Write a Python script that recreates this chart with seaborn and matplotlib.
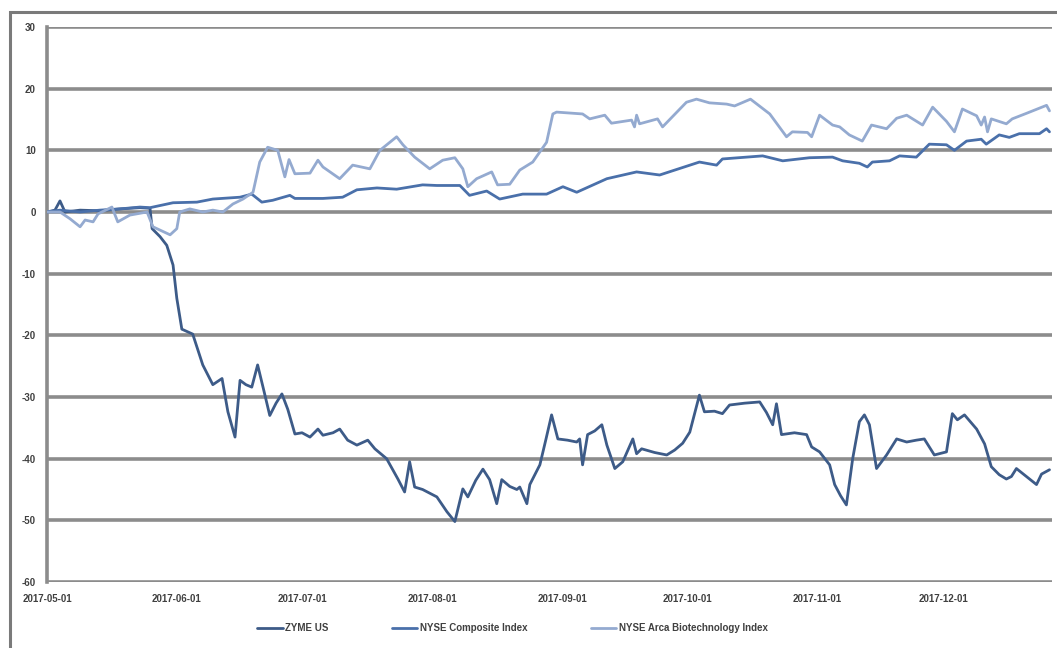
import pandas as pd
import numpy as np
import matplotlib
matplotlib.use('Agg')
import matplotlib.pyplot as plt
import matplotlib.dates as mdates
from matplotlib.patches import Rectangle
import seaborn as sns

# Cumulative return (%) since 2017-05-01
START = pd.Timestamp('2017-05-01')

zyme_days = [0, 1.9, 3.1, 4.3, 7.9, 12.6, 17.4, 22.2, 24.6, 25.1, 27.0, 28.6, 30.1, 31.0, 32.2,
             34.8, 37.2, 39.6, 41.8, 43.2, 44.9, 46.1, 47.5, 48.9, 50.3, 51.8, 53.2, 54.7, 56.1,
             57.5, 59.2, 60.9, 62.8, 64.7, 65.9, 68.3, 69.9, 71.8, 74.0, 76.6, 78.3, 81.1, 83.8,
             85.4, 86.6, 87.8, 89.7, 93.1, 95.5, 97.4, 99.3, 100.5, 102.4, 104.1, 105.7, 107.4,
             108.6, 110.5, 112.2, 112.9, 114.6, 115.3, 117.7, 119.1, 120.5, 122.0, 124.3, 126.5,
             127.2, 127.9, 129.1, 130.8, 132.5, 133.7, 135.6, 137.5, 139.9, 140.8, 142.0, 145.1,
             148.0, 149.9, 151.8, 153.5, 155.8, 157.0, 159.4, 161.3, 163.0, 166.6, 170.2, 171.8,
             173.3, 174.2, 175.4, 178.5, 180.4, 181.4, 182.6, 184.5, 186.9, 188.1, 189.5, 190.9,
             192.4, 194.0, 195.2, 196.4, 198.1, 200.5, 202.9, 205.3, 207.6, 209.5, 211.9, 214.8,
             216.2, 217.4, 219.1, 222.0, 223.9, 225.5, 227.4, 229.1, 230.3, 231.5, 233.9, 236.3,
             237.5, 239.4]
zyme_vals = [0, 0.3, 1.8, 0, 0.3, 0.2, 0.5, 0.7, 0.6, -2.7, -4, -5.4, -8.6, -14, -19,
             -19.8, -24.8, -28, -27, -32.4, -36.5, -27.3, -28, -28.4, -24.8, -29, -33, -31, -29.5,
             -32, -36, -35.8, -36.5, -35.2, -36.2, -35.8, -35.2, -37, -37.8, -37, -38.4, -40, -43.3,
             -45.4, -40.5, -44.6, -45, -46.2, -48.6, -50.2, -44.9, -46.2, -43.5, -41.7, -43.4, -47.3,
             -43.4, -44.5, -45, -44.6, -47.3, -44.2, -41, -37, -32.9, -36.8, -37, -37.3,
             -36.8, -41, -36.1, -35.5, -34.5, -37.8, -41.6, -40.5, -36.8, -39.2, -38.4, -39,
             -39.4, -38.6, -37.5, -35.7, -29.7, -32.4, -32.3, -32.7, -31.3, -31, -30.8, -32.5,
             -34.5, -31.1, -36.1, -35.8, -36, -36.1, -38.1, -38.9, -41, -44.2, -46, -47.5,
             -40, -34, -32.9, -34.5, -41.6, -39.4, -36.8, -37.3, -37, -36.8, -39.4, -38.9,
             -32.7, -33.7, -32.9, -35.2, -37.6, -41.3, -42.6, -43.3, -42.9, -41.6, -42.9, -44.2,
             -42.5, -41.8]

nyse_days = [0, 3.1, 7.9, 12.6, 17.4, 22.2, 24.6, 30.1, 35.8, 39.6, 46.1, 48.9, 51.3, 53.9,
             58.0, 59.2, 65.9, 70.6, 74.0, 78.8, 83.5, 89.7, 93.1, 98.6, 100.9, 105.0, 108.1,
             113.6, 119.3, 123.2, 126.5, 133.7, 140.8, 146.3, 155.8, 159.9, 161.3, 170.9, 175.7,
             182.1, 187.6, 190.0, 194.0, 195.9, 197.1, 201.2, 203.6, 207.6, 210.7, 214.8, 216.7,
             219.6, 223.1, 224.3, 227.4, 229.8, 232.2, 237.0, 238.7, 239.4]
nyse_vals = [0, 0.3, 0, 0.3, 0.5, 0.8, 0.7, 1.5, 1.6, 2.1, 2.4, 2.9, 1.6, 1.9,
             2.7, 2.2, 2.2, 2.4, 3.6, 3.9, 3.7, 4.4, 4.3, 4.3, 2.7, 3.4, 2.1,
             2.9, 2.9, 4.1, 3.2, 5.4, 6.5, 6.0, 8.1, 7.6, 8.6, 9.1, 8.3,
             8.8, 8.9, 8.3, 7.9, 7.3, 8.1, 8.3, 9.1, 8.9, 11.0, 10.9, 10.0,
             11.5, 11.8, 11.0, 12.5, 12.1, 12.7, 12.7, 13.5, 13.0]

bio_days = [0, 3.1, 5.5, 7.9, 9.1, 11.0, 12.2, 15.5, 16.9, 19.8, 23.9, 25.3, 29.4, 31.0, 31.7,
            34.1, 37.2, 39.6, 42.0, 44.4, 46.8, 49.2, 50.8, 52.7, 55.1, 56.8, 57.8, 59.2, 62.8,
            64.7, 65.9, 69.9, 73.0, 77.1, 79.5, 83.5, 85.0, 87.8, 91.4, 94.5, 97.4, 99.3, 100.5,
            102.6, 106.2, 107.6, 110.5, 112.9, 116.0, 119.3, 120.8, 121.7, 127.9, 129.6, 133.2,
            134.8, 139.6, 140.3, 140.8, 141.5, 145.8, 147.0, 152.7, 155.1, 158.2, 162.3, 164.2,
            168.0, 172.6, 176.6, 178.0, 181.6, 182.6, 184.5, 187.6, 189.3, 191.6, 194.7, 196.9,
            200.5, 202.9, 205.3, 209.1, 211.5, 214.8, 216.7, 218.6, 222.0, 223.1, 223.9, 224.6,
            225.5, 229.1, 230.5, 233.9, 238.7, 239.4]
bio_vals = [0, 0, -1.1, -2.4, -1.3, -1.6, -0.3, 0.8, -1.6, -0.5, 0, -2.4, -3.7, -2.7, 0,
            0.5, 0, 0.3, 0, 1.3, 2.1, 3.2, 8.1, 10.5, 10.0, 5.7, 8.5, 6.2, 6.3,
            8.4, 7.3, 5.4, 7.6, 7.0, 10.0, 12.2, 10.9, 8.9, 7.0, 8.4, 8.8, 7.0, 4.1,
            5.4, 6.5, 4.4, 4.5, 6.8, 8.1, 11.3, 15.9, 16.2, 15.9, 15.1, 15.7,
            14.4, 14.9, 13.8, 15.7, 14.3, 15.1, 13.8, 17.8, 18.3, 17.7, 17.5, 17.2,
            18.3, 15.9, 12.2, 13.0, 12.9, 12.2, 15.7, 14.1, 13.8, 12.5, 11.5, 14.1,
            13.5, 15.2, 15.7, 14.1, 17.0, 14.7, 13.0, 16.7, 15.6, 14.1, 15.4, 13.0,
            15.1, 14.3, 15.1, 16.0, 17.3, 16.4]

series_names = ['ZYME US', 'NYSE Composite Index', 'NYSE Arca Biotechnology Index']
series_colors = ['#3d5b88', '#4a70aa', '#94aad0']
tick_dates = ['2017-05-01', '2017-06-01', '2017-07-01', '2017-08-01',
              '2017-09-01', '2017-10-01', '2017-11-01', '2017-12-01']

sns.set_style('white')
plt.rcParams['font.family'] = ['Liberation Sans Narrow', 'Liberation Sans', 'DejaVu Sans']
plt.rcParams['axes.unicode_minus'] = False

fig = plt.figure(figsize=(10.57, 6.48), dpi=100)
ax = fig.add_axes([47 / 1057, 1 - 582 / 648, 1005 / 1057, 555 / 648])

grid_col = '#8c8c8c'
text_col = '#404040'

# gridlines drawn first so the lines sit on top
for yv in range(-60, 31, 10):
    ax.axhline(yv, color=grid_col, lw=2.6, zorder=1)

all_series = [(zyme_days, zyme_vals), (nyse_days, nyse_vals), (bio_days, bio_vals)]
for (days, vals), name, col in zip(all_series, series_names, series_colors):
    df = pd.DataFrame({'date': START + pd.to_timedelta(days, unit='D'), 'value': vals})
    sns.lineplot(data=df, x='date', y='value', ax=ax, color=col, lw=2.0,
                 estimator=None, sort=False, label=name, zorder=3)

ax.set_xlim(START, START + pd.Timedelta(days=240))
ax.set_ylim(-60, 30)
ax.set_yticks(range(-60, 31, 10))
ax.set_xticks(pd.to_datetime(tick_dates))
ax.xaxis.set_major_formatter(mdates.DateFormatter('%Y-%m-%d'))
ax.set_xlabel('')
ax.set_ylabel('')

for side in ['top', 'right', 'bottom']:
    ax.spines[side].set_visible(False)
ax.spines['left'].set_color(grid_col)
ax.spines['left'].set_linewidth(2.6)

ax.tick_params(axis='y', length=4, width=2, color=grid_col, pad=4,
               labelsize=7, labelcolor=text_col)
ax.tick_params(axis='x', length=0, pad=9, labelsize=7, labelcolor=text_col)
for lab in ax.get_xticklabels() + ax.get_yticklabels():
    lab.set_fontweight('bold')

# legend below the plot
ax.get_legend().remove()
handles, labels = ax.get_legend_handles_labels()
leg = fig.legend(handles, labels, loc='center', bbox_to_anchor=(0.485, 1 - 628 / 648),
                 ncol=3, frameon=False, fontsize=7, handlelength=2.6, columnspacing=6.5,
                 handletextpad=0.3)
for t in leg.get_texts():
    t.set_color(text_col)
    t.set_fontweight('bold')

# outer chart frame (top and left edges visible)
fig.patches.append(Rectangle((10 / 1057, -0.1), 1.2, 0.1 + 1 - 12 / 648,
                             transform=fig.transFigure, fill=False,
                             edgecolor='#7a7a7a', lw=2.2, zorder=0))

fig.savefig('out.png', dpi=100)
